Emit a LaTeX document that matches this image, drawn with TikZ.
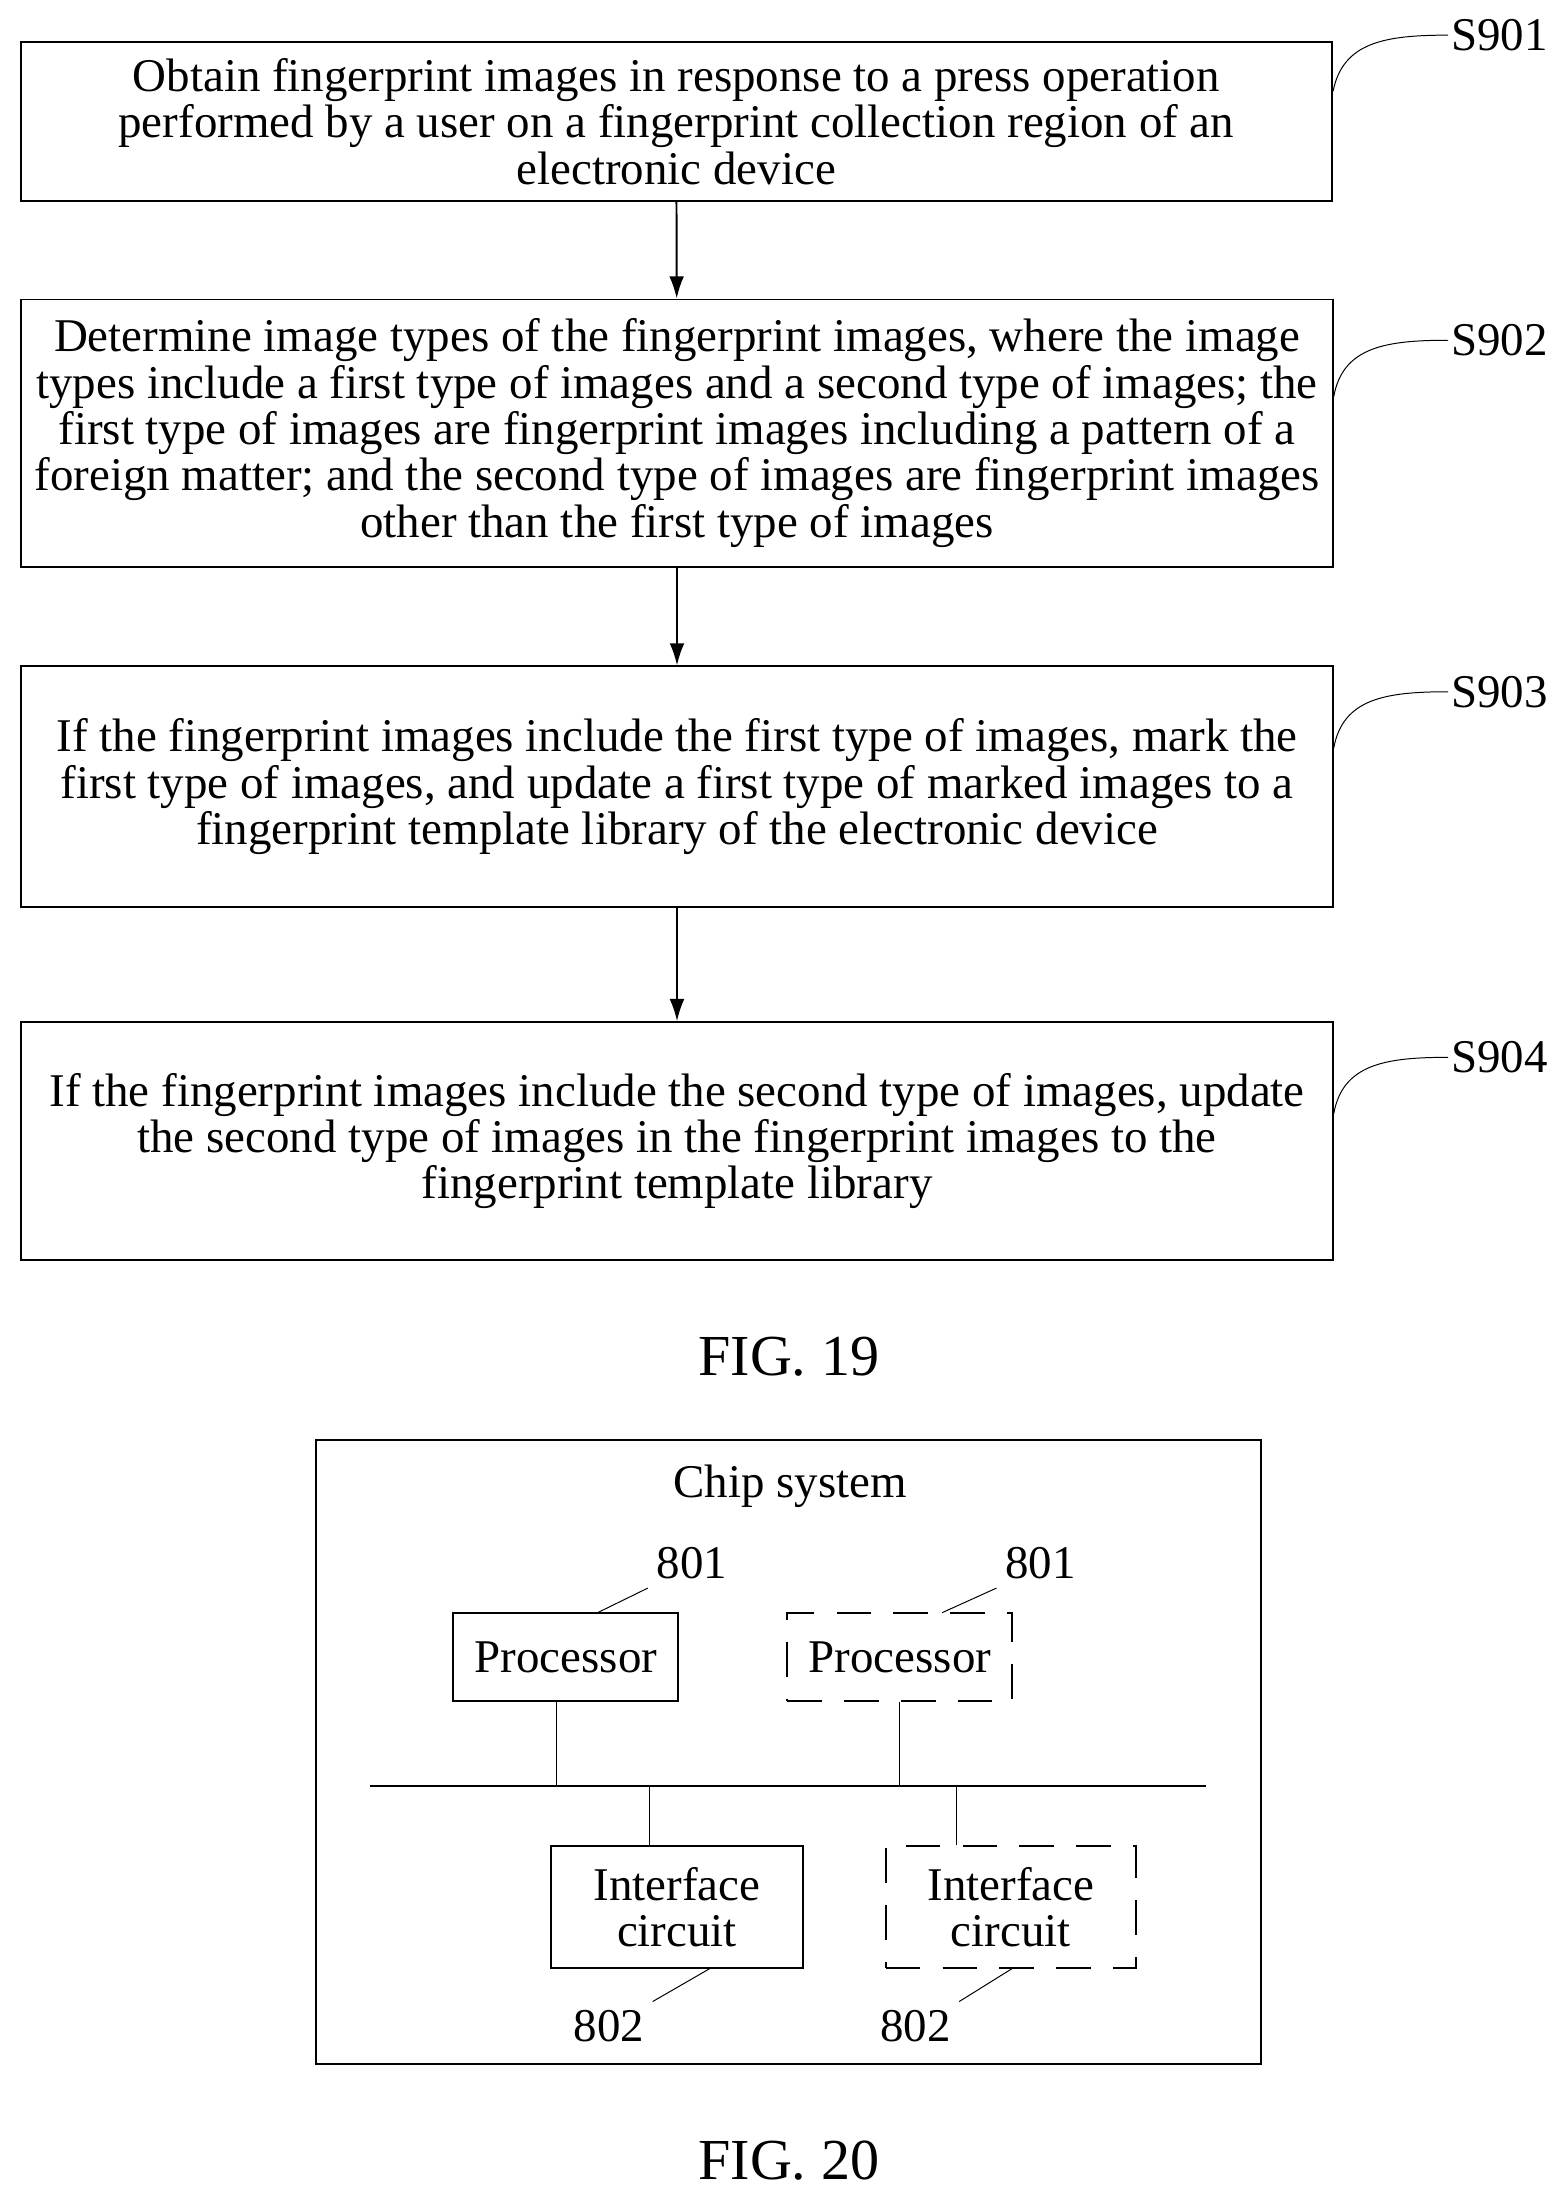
\documentclass[tikz,border=0pt]{standalone}
\usepackage{fontspec}
\setmainfont{Liberation Serif}
\usetikzlibrary{positioning, arrows.meta}

\begin{document}
\begin{tikzpicture}[x=0.02cm, y=-0.02cm,
    every node/.style={font=\fontsize{19}{18.8}\selectfont},
    stepbox/.style={draw, thick, minimum width=18.66cm, align=center, inner sep=0pt},
    block/.style={draw, thick, minimum width=3.2cm, minimum height=1.26cm, align=center, inner sep=0pt},
    dblock/.style={block, dash pattern=on 14pt off 9pt},
    flow/.style={-{Latex[length=9pt,width=6pt]}, thick},
    lead/.style={thin},
    figlabel/.style={font=\fontsize{23.5}{26}\selectfont}]
  \useasboundingbox (0,0) rectangle (1110,1564);

  % Flow chart
  \node[stepbox, minimum height=2.26cm] (s1) at (481,86.5)
    {Obtain fingerprint images in response to a press operation\\
     performed by a user on a fingerprint collection region of an\\
     electronic device};
  \node[stepbox, minimum height=3.8cm] (s2) at (481.5,308)
    {Determine image types of the fingerprint images, where the image\\
     types include a first type of images and a second type of images; the\\
     first type of images are fingerprint images including a pattern of a\\
     foreign matter; and the second type of images are fingerprint images\\
     other than the first type of images};
  \node[stepbox, minimum height=3.42cm] (s3) at (481.5,559.5)
    {If the fingerprint images include the first type of images, mark the\\
     first type of images, and update a first type of marked images to a\\
     fingerprint template library of the electronic device};
  \node[stepbox, minimum height=3.38cm] (s4) at (481.5,811.5)
    {If the fingerprint images include the second type of images, update\\
     the second type of images in the fingerprint images to the\\
     fingerprint template library};
  \draw[flow] (s1) -- (s2);
  \draw[flow] (s2) -- (s3);
  \draw[flow] (s3) -- (s4);

  % Step labels
  \foreach \s/\y in {1/25, 2/242, 3/492, 4/752} {
    \node[anchor=west, inner sep=1pt] (l\s) at (1030,\y) {S90\s};
    \draw[lead] (s\s.east |- 0,\y+40) .. controls (955,\y+5) and (985,\y) .. (l\s.west);
  }
  \node[figlabel] (fig19) at (561,965) {FIG. 19};

  % Chip system
  \draw[thick] (225,1024) rectangle (897,1468);
  \node (chip) at (562,1057) {Chip system};
  \node[block] (p1) at (402.5,1178.5) {Processor};
  \node[dblock] (p2) at (640,1178.5) {Processor};
  \node[block, minimum width=3.58cm, minimum height=1.74cm] (c1) at (481.5,1356.5) {Interface\\circuit};
  \node[dblock, minimum width=3.56cm, minimum height=1.74cm] (c2) at (719,1356.5) {Interface\\circuit};
  \coordinate (busl) at (263,1270);
  \coordinate (busr) at (858,1270);
  \draw[thick] (busl) -- (busr);
  \draw (p1.south -| 396,0) -- (396,1270);
  \draw (p2.south) -- (p2.south |- busl);
  \draw (c1.north -| 462,0) -- (462,1270);
  \draw (c2.north -| 680,0) -- (680,1270);

  \node (n1) at (492,1112) {801};
  \node (n2) at (740,1112) {801};
  \node (n3) at (433,1441) {802};
  \node (n4) at (651,1441) {802};
  \draw[lead] (425,1147) -- (n1.south west);
  \draw[lead] (670,1147) -- (n2.south west);
  \draw[lead] (505,1400) -- (n3.north east);
  \draw[lead] (720,1400) -- (n4.north east);
  \node[figlabel] (fig20) at (561,1537) {FIG. 20};
\end{tikzpicture}
\end{document}
